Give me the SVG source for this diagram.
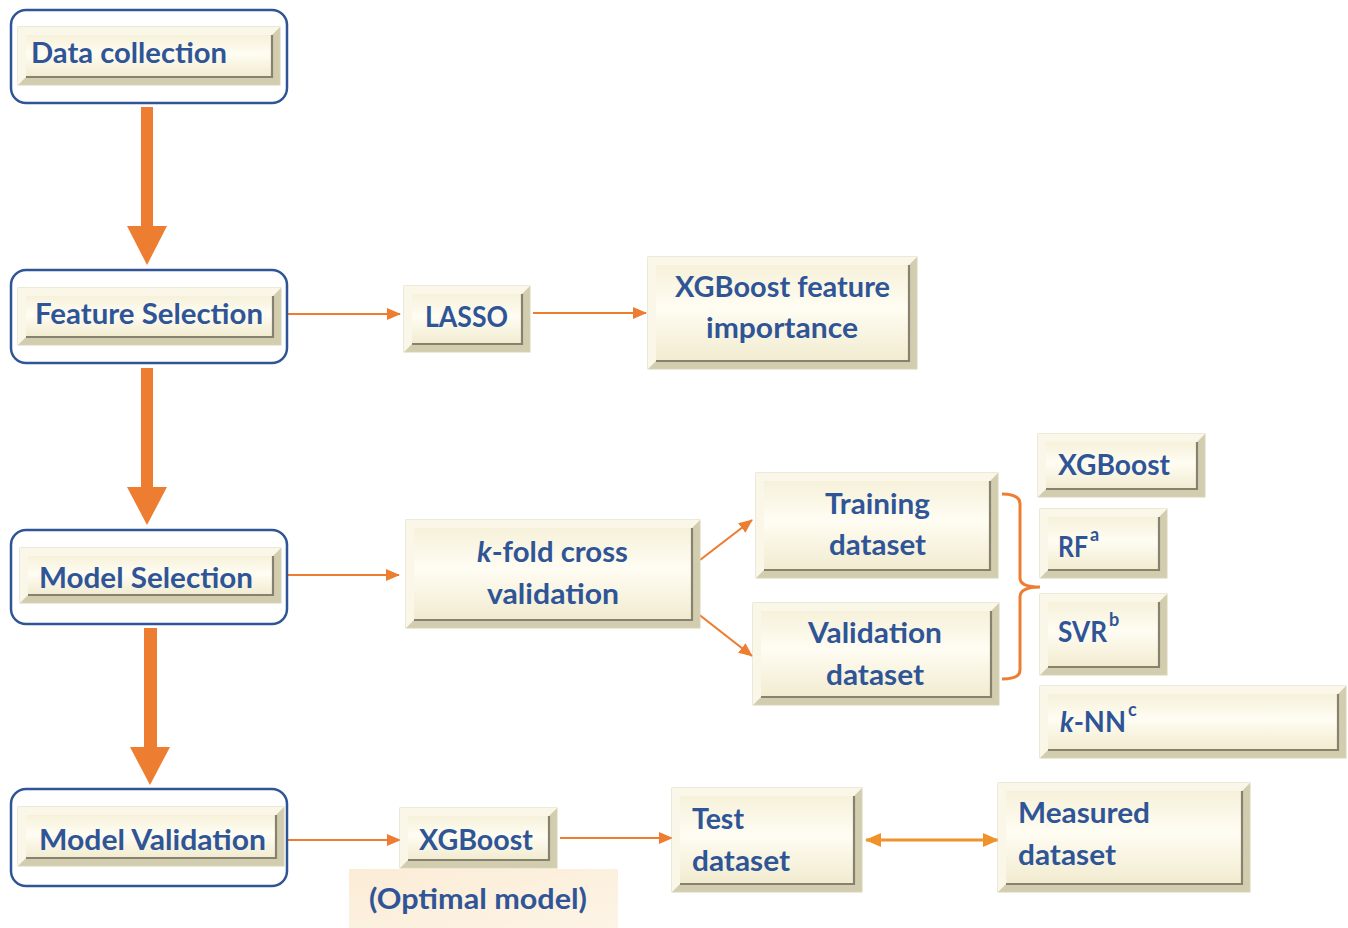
<svg xmlns="http://www.w3.org/2000/svg" width="1348" height="928" viewBox="0 0 1348 928">
<defs>
<linearGradient id="face" x1="0" y1="0" x2="0" y2="1">
<stop offset="0" stop-color="#f6f1da"/>
<stop offset="0.45" stop-color="#fffdf3"/>
<stop offset="1" stop-color="#f1ebcf"/>
</linearGradient>
<linearGradient id="peach" x1="0" y1="0" x2="1" y2="1">
<stop offset="0" stop-color="#fbecd6"/>
<stop offset="1" stop-color="#fdf4e6"/>
</linearGradient>
<marker id="ah" viewBox="0 0 14 12" refX="13" refY="6" markerWidth="14" markerHeight="12" markerUnits="userSpaceOnUse" orient="auto">
<path d="M0,0 L14,6 L0,12 Z" fill="#ed7d31"/>
</marker>
<marker id="ah2" viewBox="0 0 16 14" refX="15" refY="7" markerWidth="16" markerHeight="14" markerUnits="userSpaceOnUse" orient="auto-start-reverse">
<path d="M0,0 L16,7 L0,14 Z" fill="#f0922b"/>
</marker>
<style>
.frame{fill:#ffffff;stroke:#2f5597;stroke-width:2.5}
.ob{fill:#d3cdb0;stroke:#d8d3b6;stroke-width:1}
.lt{fill:#faf7e8}
.in{fill:url(#face)}
.dk{fill:none;stroke:#878170;stroke-width:2.2}
.t{font-family:Lato,"Open Sans","Liberation Sans",sans-serif;font-weight:bold;font-size:28px;fill:#2f5597}
.sup{font-family:Lato,"Open Sans","Liberation Sans",sans-serif;font-weight:bold;font-size:18px;fill:#2f5597}
.thin{fill:none;stroke:#ed7d31;stroke-width:2.2}
.big{fill:#ed7d31}
</style>
</defs>

<g id="connectors">
<polygon class="big" points="141,107 153,107 153,226 167,226 147,265 127,226 141,226"/>
<polygon class="big" points="141,368 153,368 153,487 167,487 147,525 127,487 141,487"/>
<polygon class="big" points="144,628 157,628 157,747 170,747 150,785 130,747 144,747"/>
<line class="thin" x1="287" y1="314" x2="400" y2="314" marker-end="url(#ah)"/>
<line class="thin" x1="533" y1="313" x2="646" y2="313" marker-end="url(#ah)"/>
<line class="thin" x1="287" y1="575" x2="399" y2="575" marker-end="url(#ah)"/>
<line class="thin" x1="700" y1="560" x2="752" y2="520" marker-end="url(#ah)"/>
<line class="thin" x1="697" y1="613" x2="752" y2="656" marker-end="url(#ah)"/>
<path class="thin" style="stroke-width:3" d="M1002,494 Q1020,494 1020,504 V578 Q1020,587 1040,587 Q1020,587 1020,597 V670 Q1020,679 1002,679"/>
<line class="thin" x1="287" y1="840" x2="400" y2="840" marker-end="url(#ah)"/>
<line class="thin" x1="560" y1="838" x2="672" y2="838" marker-end="url(#ah)"/>
<line x1="866" y1="840" x2="998" y2="840" stroke="#f0922b" stroke-width="3" marker-start="url(#ah2)" marker-end="url(#ah2)"/>
</g>

<g id="data-collection">
<rect class="frame" x="11" y="10" width="276" height="93" rx="15"/>
<rect class="ob" x="18" y="27" width="262" height="58"/>
<polygon class="lt" points="18,27 280,27 272,35 26,77 18,85"/>
<rect class="in" x="26" y="35" width="246" height="42"/>
<path class="dk" d="M26,77 H272 V35"/>
<text class="t" x="31" y="63" textLength="196" lengthAdjust="spacingAndGlyphs">Data collection</text>
</g>

<g id="feature-selection">
<rect class="frame" x="11" y="270" width="276" height="93" rx="15"/>
<rect class="ob" x="18" y="288" width="263" height="57"/>
<polygon class="lt" points="18,288 281,288 273,296 26,337 18,345"/>
<rect class="in" x="26" y="296" width="247" height="41"/>
<path class="dk" d="M26,337 H273 V296"/>
<text class="t" x="35" y="324" textLength="228" lengthAdjust="spacingAndGlyphs">Feature Selection</text>
</g>

<g id="model-selection">
<rect class="frame" x="11" y="530" width="276" height="94" rx="15"/>
<rect class="ob" x="20" y="548" width="261" height="55"/>
<polygon class="lt" points="20,548 281,548 273,556 28,595 20,603"/>
<rect class="in" x="28" y="556" width="245" height="39"/>
<path class="dk" d="M28,595 H273 V556"/>
<text class="t" x="39" y="588" textLength="214" lengthAdjust="spacingAndGlyphs">Model Selection</text>
</g>

<g id="model-validation">
<rect class="frame" x="11" y="789" width="276" height="97" rx="15"/>
<rect class="ob" x="18" y="807" width="266" height="59"/>
<polygon class="lt" points="18,807 284,807 276,815 26,858 18,866"/>
<rect class="in" x="26" y="815" width="250" height="43"/>
<path class="dk" d="M26,858 H276 V815"/>
<text class="t" x="39" y="850" textLength="227" lengthAdjust="spacingAndGlyphs">Model Validation</text>
</g>

<g id="lasso">
<rect class="ob" x="404" y="286" width="126" height="66"/>
<polygon class="lt" points="404,286 530,286 522,294 412,344 404,352"/>
<rect class="in" x="412" y="294" width="110" height="50"/>
<path class="dk" d="M412,344 H522 V294"/>
<text class="t" x="425" y="327" textLength="83" lengthAdjust="spacingAndGlyphs">LASSO</text>
</g>

<g id="xgboost-feature-importance">
<rect class="ob" x="648" y="257" width="269" height="112"/>
<polygon class="lt" points="648,257 917,257 909,265 656,361 648,369"/>
<rect class="in" x="656" y="265" width="253" height="96"/>
<path class="dk" d="M656,361 H909 V265"/>
<text class="t" x="675" y="297" textLength="215" lengthAdjust="spacingAndGlyphs">XGBoost feature</text>
<text class="t" x="706" y="338" textLength="152" lengthAdjust="spacingAndGlyphs">importance</text>
</g>

<g id="kfold">
<rect class="ob" x="406" y="520" width="294" height="108"/>
<polygon class="lt" points="406,520 700,520 692,528 414,620 406,628"/>
<rect class="in" x="414" y="528" width="278" height="92"/>
<path class="dk" d="M414,620 H692 V528"/>
<text class="t" x="477" y="562" textLength="151" lengthAdjust="spacingAndGlyphs"><tspan font-style="italic">k</tspan>-fold cross</text>
<text class="t" x="487" y="604" textLength="132" lengthAdjust="spacingAndGlyphs">validation</text>
</g>

<g id="training-dataset">
<rect class="ob" x="756" y="473" width="242" height="105"/>
<polygon class="lt" points="756,473 998,473 990,481 764,570 756,578"/>
<rect class="in" x="764" y="481" width="226" height="89"/>
<path class="dk" d="M764,570 H990 V481"/>
<text class="t" x="825" y="514" textLength="105" lengthAdjust="spacingAndGlyphs">Training</text>
<text class="t" x="829" y="555" textLength="97" lengthAdjust="spacingAndGlyphs">dataset</text>
</g>

<g id="validation-dataset">
<rect class="ob" x="753" y="603" width="246" height="102"/>
<polygon class="lt" points="753,603 999,603 991,611 761,697 753,705"/>
<rect class="in" x="761" y="611" width="230" height="86"/>
<path class="dk" d="M761,697 H991 V611"/>
<text class="t" x="808" y="643" textLength="134" lengthAdjust="spacingAndGlyphs">Validation</text>
<text class="t" x="826" y="685" textLength="98" lengthAdjust="spacingAndGlyphs">dataset</text>
</g>

<g id="xgboost-model">
<rect class="ob" x="1038" y="434" width="167" height="63"/>
<polygon class="lt" points="1038,434 1205,434 1197,442 1046,489 1038,497"/>
<rect class="in" x="1046" y="442" width="151" height="47"/>
<path class="dk" d="M1046,489 H1197 V442"/>
<text class="t" x="1058" y="475" textLength="112" lengthAdjust="spacingAndGlyphs">XGBoost</text>
</g>

<g id="rf">
<rect class="ob" x="1040" y="509" width="127" height="69"/>
<polygon class="lt" points="1040,509 1167,509 1159,517 1048,570 1040,578"/>
<rect class="in" x="1048" y="517" width="111" height="53"/>
<path class="dk" d="M1048,570 H1159 V517"/>
<text class="t" x="1058" y="557" textLength="30" lengthAdjust="spacingAndGlyphs">RF</text>
<text class="sup" x="1090" y="541">a</text>
</g>

<g id="svr">
<rect class="ob" x="1040" y="594" width="127" height="81"/>
<polygon class="lt" points="1040,594 1167,594 1159,602 1048,667 1040,675"/>
<rect class="in" x="1048" y="602" width="111" height="65"/>
<path class="dk" d="M1048,667 H1159 V602"/>
<text class="t" x="1058" y="642" textLength="49" lengthAdjust="spacingAndGlyphs">SVR</text>
<text class="sup" x="1109" y="626">b</text>
</g>

<g id="knn">
<rect class="ob" x="1040" y="686" width="306" height="72"/>
<polygon class="lt" points="1040,686 1346,686 1338,694 1048,750 1040,758"/>
<rect class="in" x="1048" y="694" width="290" height="56"/>
<path class="dk" d="M1048,750 H1338 V694"/>
<text class="t" x="1060" y="732" textLength="66" lengthAdjust="spacingAndGlyphs"><tspan font-style="italic">k</tspan>-NN</text>
<text class="sup" x="1128" y="716">c</text>
</g>

<g id="xgboost-optimal">
<rect class="ob" x="400" y="808" width="157" height="60"/>
<polygon class="lt" points="400,808 557,808 549,816 408,860 400,868"/>
<rect class="in" x="408" y="816" width="141" height="44"/>
<path class="dk" d="M408,860 H549 V816"/>
<text class="t" x="419" y="850" textLength="114" lengthAdjust="spacingAndGlyphs">XGBoost</text>
<rect x="349" y="869" width="269" height="59" fill="url(#peach)"/>
<text class="t" x="369" y="909" textLength="218" lengthAdjust="spacingAndGlyphs">(Optimal model)</text>
</g>

<g id="test-dataset">
<rect class="ob" x="672" y="788" width="190" height="104"/>
<polygon class="lt" points="672,788 862,788 854,796 680,884 672,892"/>
<rect class="in" x="680" y="796" width="174" height="88"/>
<path class="dk" d="M680,884 H854 V796"/>
<text class="t" x="692" y="829" textLength="52" lengthAdjust="spacingAndGlyphs">Test</text>
<text class="t" x="692" y="871" textLength="98" lengthAdjust="spacingAndGlyphs">dataset</text>
</g>

<g id="measured-dataset">
<rect class="ob" x="998" y="783" width="252" height="109"/>
<polygon class="lt" points="998,783 1250,783 1242,791 1006,884 998,892"/>
<rect class="in" x="1006" y="791" width="236" height="93"/>
<path class="dk" d="M1006,884 H1242 V791"/>
<text class="t" x="1018" y="823" textLength="132" lengthAdjust="spacingAndGlyphs">Measured</text>
<text class="t" x="1018" y="865" textLength="98" lengthAdjust="spacingAndGlyphs">dataset</text>
</g>
</svg>
